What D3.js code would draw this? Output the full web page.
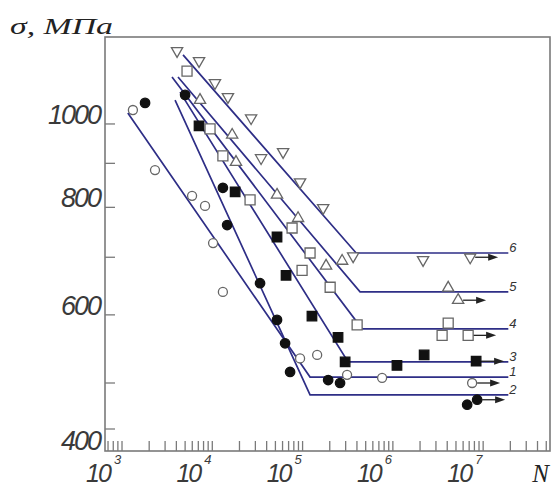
<!DOCTYPE html>
<meta charset="utf-8">
<script src="https://d3js.org/d3.v7.min.js"></script>
<body style="margin:0;background:#fff">
<svg id="chart" width="558" height="486"></svg>
<script>
// fatigue data: N = cycles, S = stress, MPa
var open1N = [1320, 2320, 5970, 8310, 10200, 13100, 93800, 145000, 311000, 760000];
var open1S = [1038, 884, 825, 803, 727, 638, 534, 539, 511, 507];
var fill2N = [1800, 5000, 13100, 14600, 33800, 52100, 64000, 72700, 192000, 260000, 6650000];
var fill2S = [1058, 1081, 843, 763, 653, 592, 556, 515, 504, 500, 450];
var fsq3N = [7130, 17900, 52100, 65600, 127000, 247000, 296000, 1110000, 2220000];
var fsq3S = [995, 834, 739, 667, 598, 565, 529, 524, 539];
var osq4N = [5250, 9440, 13100, 26200, 76500, 121000, 98700, 202000, 402000, 4100000, 3510000];
var osq4S = [1152, 987, 918, 816, 757, 708, 676, 646, 584, 587, 568];
var tup5N = [7310, 16600, 18300, 52100, 89100, 182000, 274000, 4100000];
var tup5S = [1066, 971, 903, 827, 777, 684, 693, 645];
var tdn6N = [4070, 7130, 10700, 14900, 26900, 34700, 60800, 93800, 169000, 363000, 2160000];
var tdn6S = [1216, 1184, 1116, 1075, 1016, 913, 928, 856, 799, 702, 695];

// run-outs (specimen did not fail), series 1..6
var runoutN = [7550000, 8580000, 8360000, 6820000, 5280000, 7180000];
var runoutS = [500, 461, 530, 568, 624, 700];

// fitted curves 1..6: start point, knee, horizontal endurance limit
var curveNames = ["1", "2", "3", "4", "5", "6"];
var startN = [1160, 3870, 4390, 3580, 4170, 4740];
var startS = [1030, 1066, 1089, 1134, 1134, 1203];
var kneeN = [121000, 121000, 319000, 456000, 433000, 392000];
var limitS = [508, 472, 529, 578, 638, 708];
var endN = 19000000;

// axis ticks
var yTickVals = [400, 500, 600, 700, 800, 900, 1000];
var yLabelVals = [1000, 800, 600, 400];
var xDecades = [3, 4, 5, 6, 7];

var svg = d3.select("#chart");

var x = d3.scaleLog().domain([648, 5.5e7]).range([105, 550]);
var y = d3.scaleLog().domain([360, 400, 500, 1262]).range([451, 429, 383, 37]);

var axisColor = "#7a7a7a";
var lineColor = "#2e2e86";

// frame
svg.append("rect")
  .attr("x", x.range()[0]).attr("y", y(1262))
  .attr("width", x.range()[1] - x.range()[0])
  .attr("height", y(360) - y(1262))
  .attr("fill", "none").attr("stroke", axisColor).attr("stroke-width", 1.6);

// x ticks (inside, upward)
svg.append("g").selectAll("line")
  .data(x.ticks())
  .enter().append("line")
  .attr("x1", function(d){ return x(d) }).attr("x2", function(d){ return x(d) })
  .attr("y1", y(360)).attr("y2", y(360) - 10)
  .attr("stroke", axisColor).attr("stroke-width", 1.3);

// y ticks (inside, rightward)
svg.append("g").selectAll("line")
  .data(yTickVals)
  .enter().append("line")
  .attr("x1", x(648)).attr("x2", x(648) + 10)
  .attr("y1", function(d){ return y(d) }).attr("y2", function(d){ return y(d) })
  .attr("stroke", axisColor).attr("stroke-width", 1.3);

// y labels
svg.append("g").selectAll("text")
  .data(yLabelVals)
  .enter().append("text")
  .attr("x", x(648) - 5)
  .attr("y", function(d){ return d == 400 ? y(360) - 1 : y(d) })
  .attr("text-anchor", "end")
  .style("font-family", "Liberation Sans")
  .style("font-style", "italic")
  .style("font-size", "27px")
  .style("letter-spacing", "-2px")
  .style("fill", "#3a3a3a")
  .text(function(d){ return d });

// x labels 10^k
var xl = svg.append("g").selectAll("g")
  .data(xDecades)
  .enter().append("g");
xl.append("text")
  .attr("x", function(d){ return x(Math.pow(10, d)) - 24 })
  .attr("y", 482)
  .attr("text-anchor", "middle")
  .style("font-family", "Liberation Sans")
  .style("font-style", "italic")
  .style("font-size", "25px")
  .style("letter-spacing", "-2px")
  .style("fill", "#3a3a3a")
  .text("10");
xl.append("text")
  .attr("x", function(d){ return x(Math.pow(10, d)) - 8 })
  .attr("y", 464)
  .style("font-family", "Liberation Sans")
  .style("font-style", "italic")
  .style("font-size", "13px")
  .style("fill", "#3a3a3a")
  .text(function(d){ return d });

svg.append("text")
  .attr("x", 549).attr("y", 482)
  .attr("text-anchor", "end")
  .style("font-family", "Liberation Serif")
  .style("font-style", "italic")
  .style("font-size", "25px")
  .style("fill", "#222")
  .text("N");

svg.append("text")
  .attr("x", 10).attr("y", 34)
  .attr("textLength", 103).attr("lengthAdjust", "spacingAndGlyphs")
  .style("font-family", "Liberation Serif")
  .style("font-style", "italic")
  .style("font-size", "24px")
  .style("fill", "#222")
  .text("σ, МПа");

// fitted curves
var curves = curveNames.map(function(n, i){
  return { name: n, pts: [[startN[i], startS[i]], [kneeN[i], limitS[i]], [endN, limitS[i]]] };
});
var line = d3.line().x(function(d){ return x(d[0]) }).y(function(d){ return y(d[1]) });
svg.append("g").selectAll("path")
  .data(curves)
  .enter().append("path")
  .attr("d", function(d){ return line(d.pts) })
  .attr("fill", "none")
  .attr("stroke", lineColor)
  .attr("stroke-width", 1.7);

svg.append("g").selectAll("text")
  .data(curves)
  .enter().append("text")
  .attr("x", x(endN) + 1)
  .attr("y", function(d){ return y(d.pts[2][1]) - 1 })
  .style("font-family", "Liberation Sans")
  .style("font-style", "italic")
  .style("font-size", "13px")
  .style("fill", "#333")
  .text(function(d){ return d.name });

// markers
function pts(ns, ss){ return ns.map(function(n, i){ return [n, ss[i]] }) }
var openStyle = { fill: "#fff", stroke: "#666" };
var fillStyle = { fill: "#111", stroke: "#111" };

function drawSeries(data, symbol, size, style, rot){
  svg.append("g").selectAll("path")
    .data(data)
    .enter().append("path")
    .attr("d", d3.symbol().type(symbol).size(size))
    .attr("transform", function(d){ return "translate(" + x(d[0]) + "," + y(d[1]) + ") rotate(" + rot + ")" })
    .attr("fill", style.fill)
    .attr("stroke", style.stroke)
    .attr("stroke-width", 1.3);
}

var seriesDefs = [
  { n: open1N, s: open1S, sym: d3.symbolCircle, size: 64, st: openStyle, rot: 0 },
  { n: fill2N, s: fill2S, sym: d3.symbolCircle, size: 70, st: fillStyle, rot: 0 },
  { n: fsq3N, s: fsq3S, sym: d3.symbolSquare, size: 90, st: fillStyle, rot: 0 },
  { n: osq4N, s: osq4S, sym: d3.symbolSquare, size: 100, st: openStyle, rot: 0 },
  { n: tup5N, s: tup5S, sym: d3.symbolTriangle, size: 55, st: openStyle, rot: 0 },
  { n: tdn6N, s: tdn6S, sym: d3.symbolTriangle, size: 55, st: openStyle, rot: 180 }
];

seriesDefs.forEach(function(d, i){
  drawSeries(pts(d.n, d.s), d.sym, d.size, d.st, d.rot);
  // run-out point with arrow
  var px = x(runoutN[i]), py = y(runoutS[i]);
  svg.append("line")
    .attr("x1", px + 5).attr("x2", px + 20)
    .attr("y1", py).attr("y2", py)
    .attr("stroke", "#222").attr("stroke-width", 1.3);
  svg.append("path")
    .attr("d", "M" + (px + 28) + "," + py + "L" + (px + 18) + "," + (py - 3.5) + "L" + (px + 18) + "," + (py + 3.5) + "Z")
    .attr("fill", "#222");
  drawSeries([[runoutN[i], runoutS[i]]], d.sym, d.size, d.st, d.rot);
});
</script>
</body>
